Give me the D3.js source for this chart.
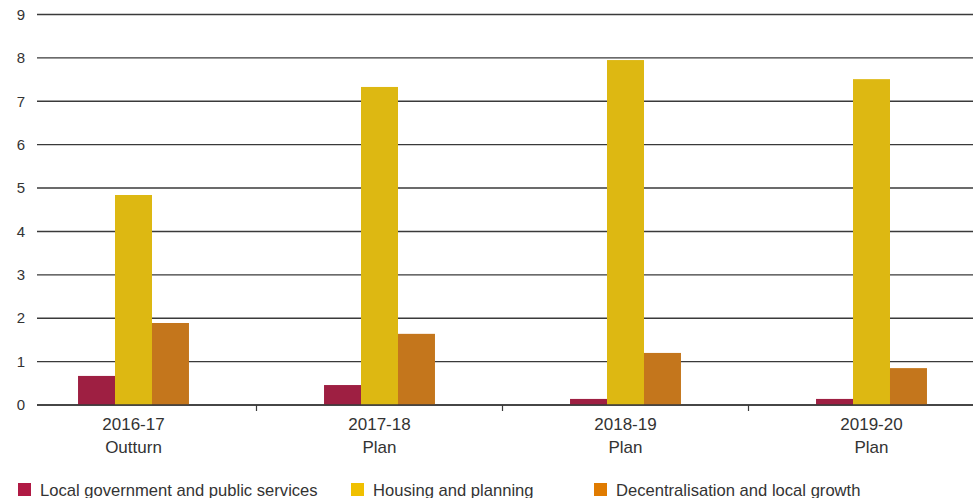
<!DOCTYPE html>
<html><head><meta charset="utf-8">
<script src="https://cdn.jsdelivr.net/npm/d3@7"></script>
<style>body{margin:0;background:#fff}svg{display:block}text{font-family:"Liberation Sans",Arial,sans-serif;fill:#333}</style>
</head><body><svg id="c" width="973" height="498"></svg>
<script>
const categories = [["2016-17","Outturn"],["2017-18","Plan"],["2018-19","Plan"],["2019-20","Plan"]];
const seriesNames = ["Local government and public services","Housing and planning","Decentralisation and local growth"];
const localGov = [0.67, 0.46, 0.14, 0.14];
const housing = [4.84, 7.33, 7.95, 7.51];
const decentral = [1.89, 1.64, 1.20, 0.85];
const yTicks = [0,1,2,3,4,5,6,7,8,9];
const barColors = ["#9e1f42","#ddb812","#c4761c"];
const legendColors = ["#b01a44","#f0c000","#e07b00"];
const series = [localGov, housing, decentral];

const svg = d3.select("#c");
const gridLeft = 37, gridRight = 973;
const y = d3.scaleLinear().domain([0,9]).range([405,14.5]);
const x = d3.scaleBand().domain(categories.map(d=>d[0])).range([10.5,994.5]).paddingInner(0).paddingOuter(0);
const xi = d3.scaleBand().domain(d3.range(3)).range([0, x.bandwidth()*0.451]);

// gridlines
svg.append("g").selectAll("line").data(yTicks).join("line")
  .attr("x1",gridLeft).attr("x2",gridRight)
  .attr("y1",d=>y(d)).attr("y2",d=>y(d))
  .attr("stroke","#3a3a3a").attr("stroke-width",1.4);
svg.append("g").selectAll("text").data(yTicks).join("text")
  .attr("x",25).attr("y",d=>y(d)).attr("dy","0.35em")
  .attr("text-anchor","end").attr("font-size",15).text(d=>d);

// bars
const groups = svg.append("g").selectAll("g").data(categories).join("g")
  .attr("transform",(d)=>`translate(${x(d[0]) + (x.bandwidth()-x.bandwidth()*0.451)/2},0)`);
groups.selectAll("rect").data((d,i)=>series.map((s,k)=>({k,v:s[i]}))).join("rect")
  .attr("x",d=>xi(d.k)).attr("width",xi.bandwidth())
  .attr("y",d=>y(d.v)).attr("height",d=>y(0)-y(d.v))
  .attr("fill",d=>barColors[d.k]);

// baseline + ticks
svg.append("line").attr("x1",gridLeft).attr("x2",gridRight).attr("y1",y(0)).attr("y2",y(0))
  .attr("stroke","#3a3a3a").attr("stroke-width",1.4);
svg.append("g").selectAll("line").data(categories.slice(1)).join("line")
  .attr("x1",d=>x(d[0])).attr("x2",d=>x(d[0])).attr("y1",y(0)).attr("y2",y(0)+6)
  .attr("stroke","#3a3a3a").attr("stroke-width",1.2);

// x labels
const xl = svg.append("g").selectAll("text").data(categories).join("text")
  .attr("text-anchor","middle").attr("font-size",17)
  .attr("x",d=>x(d[0])+x.bandwidth()/2);
xl.append("tspan").attr("x",d=>x(d[0])+x.bandwidth()/2).attr("y",430).text(d=>d[0]);
xl.append("tspan").attr("x",d=>x(d[0])+x.bandwidth()/2).attr("y",452.5).text(d=>d[1]);

// legend
const legX = [18, 351, 594];
const lg = svg.append("g").selectAll("g").data(seriesNames).join("g")
  .attr("transform",(d,i)=>`translate(${legX[i]},483)`);
lg.append("rect").attr("width",13).attr("height",13).attr("fill",(d,i)=>legendColors[i]);
lg.append("text").attr("x",22).attr("y",12.5).attr("font-size",16.6).text(d=>d);
</script></body></html>
